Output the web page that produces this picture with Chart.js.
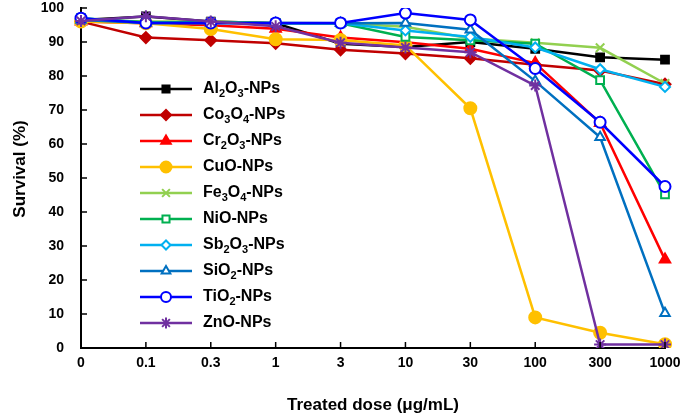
<!DOCTYPE html>
<html><head><meta charset="utf-8">
<script src="https://cdn.jsdelivr.net/npm/chart.js@4.4.0/dist/chart.umd.min.js"></script>
<style>html,body{margin:0;padding:0;background:#fff;} canvas{display:block;}</style>
</head><body>
<canvas id="c" width="685" height="420"></canvas>
<script>
const doses = ['0','0.1','0.3','1','3','10','30','100','300','1000'];
const yTicks = [0,10,20,30,40,50,60,70,80,90,100];
const seriesNames = ['Al₂O₃-NPs','Co₃O₄-NPs','Cr₂O₃-NPs','CuO-NPs','Fe₃O₄-NPs','NiO-NPs','Sb₂O₃-NPs','SiO₂-NPs','TiO₂-NPs','ZnO-NPs'];
const al2o3 = [96.5, 97.5, 96.0, 95.5, 89.5, 88.5, 90.0, 88.0, 85.5, 84.8];
const co3o4 = [96.0, 91.3, 90.5, 89.6, 87.7, 86.6, 85.2, 83.3, 81.6, 77.6];
const cr2o3 = [96.0, 95.5, 94.9, 93.9, 91.3, 89.9, 88.0, 83.8, 66.2, 26.0];
const cuo   = [96.0, 95.5, 93.8, 90.8, 90.6, 89.0, 70.5, 9.0, 4.5, 1.1];
const fe3o4 = [96.5, 96.0, 96.0, 95.5, 95.5, 94.5, 91.0, 89.8, 88.3, 77.8];
const nio   = [97.0, 95.8, 95.8, 95.6, 95.5, 91.5, 90.5, 89.5, 78.8, 45.2];
const sb2o3 = [97.0, 95.6, 95.6, 95.5, 95.5, 93.4, 91.5, 88.4, 82.0, 76.8];
const sio2  = [96.5, 95.6, 95.6, 95.5, 95.5, 95.6, 93.6, 78.5, 62.0, 10.2];
const tio2  = [97.0, 95.6, 95.6, 95.6, 95.6, 98.5, 96.5, 82.2, 66.4, 47.5];
const zno   = [96.2, 97.6, 96.0, 94.6, 89.8, 88.4, 87.0, 77.2, 1.0, 1.0];
const yTitle = 'Survival (%)';
const xTitle = 'Treated dose (μg/mL)';

const seriesData = [al2o3, co3o4, cr2o3, cuo, fe3o4, nio, sb2o3, sio2, tio2, zno];
const colors = ['#000000','#C00000','#FF0000','#FFC000','#92D050','#00B050','#00B0F0','#0070C0','#0000FF','#7030A0'];
const shapes = ['rect','rectRot','triangle','circle','crossRot','rect','rectRot','triangle','circle','star'];
const filled = [true,true,true,true,true,false,false,false,false,true];
const radii  = [5.5,5.5,6,6,6,5.5,5,5.5,5.5,6];

const FONT = "'Liberation Sans', Arial, sans-serif";

const datasets = seriesData.map((d, i) => ({
  label: seriesNames[i],
  data: d,
  borderColor: colors[i],
  backgroundColor: colors[i],
  pointBorderColor: colors[i],
  pointBackgroundColor: filled[i] ? colors[i] : '#FFFFFF',
  pointStyle: shapes[i],
  pointRadius: radii[i],
  pointBorderWidth: 2,
  borderWidth: 2.5,
  tension: 0,
  order: seriesData.length - i
}));

function drawRich(ctx, text, x, y) {
  const subs = {'₀':'0','₁':'1','₂':'2','₃':'3','₄':'4','₅':'5'};
  let cx = x;
  let run = '';
  const flush = () => {
    if (!run) return;
    ctx.font = 'bold 16px ' + FONT;
    ctx.fillText(run, cx, y);
    cx += ctx.measureText(run).width;
    run = '';
  };
  for (const ch of text) {
    if (subs[ch]) {
      flush();
      ctx.font = 'bold 11px ' + FONT;
      ctx.fillText(subs[ch], cx, y + 5);
      cx += ctx.measureText(subs[ch]).width;
    } else run += ch;
  }
  flush();
}

const insideLegend = {
  id: 'insideLegend',
  afterDatasetsDraw(chart) {
    const ctx = chart.ctx;
    const ca = chart.chartArea;
    const x0 = ca.left + 59, x1 = ca.left + 111, xm = ca.left + 85, xt = ca.left + 122;
    ctx.save();
    chart.data.datasets.forEach((ds, i) => {
      const y = ca.top + 81 + 26 * i;
      ctx.strokeStyle = ds.borderColor;
      ctx.lineWidth = ds.borderWidth;
      ctx.beginPath(); ctx.moveTo(x0, y); ctx.lineTo(x1, y); ctx.stroke();
      ctx.fillStyle = ds.pointBackgroundColor;
      ctx.strokeStyle = ds.pointBorderColor;
      ctx.lineWidth = ds.pointBorderWidth;
      Chart.helpers.drawPoint(ctx, {pointStyle: ds.pointStyle, radius: ds.pointRadius - 0.5, borderWidth: ds.pointBorderWidth, rotation: 0}, xm, y);
      ctx.fillStyle = '#000';
      ctx.textBaseline = 'middle';
      ctx.textAlign = 'left';
      drawRich(ctx, ds.label, xt, y);
    });
    ctx.restore();
  }
};

const axisExtras = {
  id: 'axisExtras',
  afterDraw(chart) {
    const ctx = chart.ctx;
    const xs = chart.scales.x, ys = chart.scales.y;
    const ca = chart.chartArea;
    ctx.save();
    ctx.strokeStyle = '#000';
    ctx.lineWidth = 1.5;
    ctx.beginPath();
    xs.ticks.forEach((t, i) => {
      const px = xs.getPixelForTick(i);
      ctx.moveTo(px, ca.bottom); ctx.lineTo(px, ca.bottom - 6);
    });
    ys.ticks.forEach((t, i) => {
      const py = ys.getPixelForTick(i);
      ctx.moveTo(ca.left, py); ctx.lineTo(ca.left + 6, py);
    });
    ctx.stroke();
    // y-axis title
    ctx.translate(20, (ca.top + ca.bottom) / 2 - 9);
    ctx.rotate(-Math.PI / 2);
    ctx.fillStyle = '#000';
    ctx.font = 'bold 17px ' + FONT;
    ctx.textAlign = 'center';
    ctx.textBaseline = 'middle';
    ctx.fillText(yTitle, 0, 0);
    ctx.restore();
  }
};

new Chart(document.getElementById('c'), {
  type: 'line',
  data: { labels: doses, datasets },
  plugins: [insideLegend, axisExtras],
  options: {
    responsive: false,
    animation: false,
    layout: { padding: { top: 7, right: 20, left: 0, bottom: 0 } },
    plugins: { legend: { display: false }, tooltip: { enabled: false } },
    scales: {
      x: {
        type: 'category',
        offset: false,
        grid: { display: true, drawOnChartArea: false, drawTicks: false },
        border: { display: true, color: '#000', width: 2 },
        ticks: { color: '#000', font: { family: FONT, size: 14, weight: 'bold' }, padding: 7, maxRotation: 0, autoSkip: false },
        title: { display: true, text: xTitle, color: '#000', font: { family: FONT, size: 17, weight: 'bold' }, padding: { top: 0, bottom: 4 } },
        afterFit: s => { s.height = 72; s.paddingLeft = 0; s.paddingRight = 0; }
      },
      y: {
        min: 0, max: 100,
        afterBuildTicks: s => { s.ticks = yTicks.map(v => ({ value: v })); },
        grid: { display: true, drawOnChartArea: false, drawTicks: false },
        border: { display: true, color: '#000', width: 2 },
        ticks: { color: '#000', font: { family: FONT, size: 14, weight: 'bold' }, padding: 17 },
        title: { display: false },
        afterFit: s => { s.width = 81; s.paddingTop = 0; s.paddingBottom = 0; }
      }
    }
  }
});
</script>
</body></html>
